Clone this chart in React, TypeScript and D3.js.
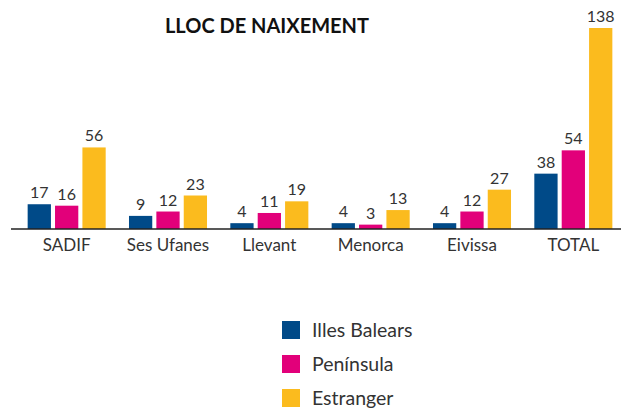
import React from "react";
import * as d3 from "d3";

const categories = ["SADIF", "Ses Ufanes", "Llevant", "Menorca", "Eivissa", "TOTAL"];
const seriesNames = ["Illes Balears", "Península", "Estranger"];
const illesBalears = [17, 9, 4, 4, 4, 38];
const peninsula = [16, 12, 11, 3, 12, 54];
const estranger = [56, 23, 19, 13, 27, 138];
const colors = ["#004a88", "#e2007a", "#fbbb1e"];

const W = 621;
const H = 411;
const baseY = 229;
const FONT = "Lato, 'Open Sans', sans-serif";

export default function App() {
  const series = [illesBalears, peninsula, estranger];
  const x0 = d3.scaleBand<string>().domain(categories).range([16, 624]).paddingInner(0.23).paddingOuter(0.115);
  const x1 = d3.scaleBand<string>().domain(seriesNames).range([0, x0.bandwidth()]).paddingInner(0.15);
  const y = d3.scaleLinear().domain([0, 138]).range([baseY, 28]);

  return (
    <svg width={W} height={H} style={{ position: "absolute", left: 0, top: 0 }}>
      <rect width={W} height={H} fill="#fff" />
      <text x={267} y={33} textAnchor="middle" fontFamily={FONT} fontWeight={700} fontSize={20} fill="#111">
        LLOC DE NAIXEMENT
      </text>
      {categories.map((c, i) => (
        <g key={c} transform={`translate(${x0(c)},0)`}>
          {seriesNames.map((s, j) => {
            const v = series[j][i];
            const bx = x1(s)!;
            const bw = x1.bandwidth();
            return (
              <g key={s}>
                <rect x={bx} y={y(v)} width={bw} height={baseY - y(v)} fill={colors[j]} />
                <text x={bx + bw / 2} y={y(v) - 6} textAnchor="middle" fontFamily={FONT} fontSize={16} fill="#333">
                  {v}
                </text>
              </g>
            );
          })}
          <text x={x0.bandwidth() / 2} y={251} textAnchor="middle" fontFamily={FONT} fontSize={17} fill="#333">
            {c}
          </text>
        </g>
      ))}
      <line x1={11} x2={621} y1={baseY} y2={baseY} stroke="#222" strokeWidth={1.5} />
      {seriesNames.map((s, j) => (
        <g key={s} transform={`translate(282,${321 + j * 34})`}>
          <rect width={18} height={18} fill={colors[j]} />
          <text x={30} y={15.5} fontFamily={FONT} fontSize={19.5} fill="#333">
            {s}
          </text>
        </g>
      ))}
    </svg>
  );
}
